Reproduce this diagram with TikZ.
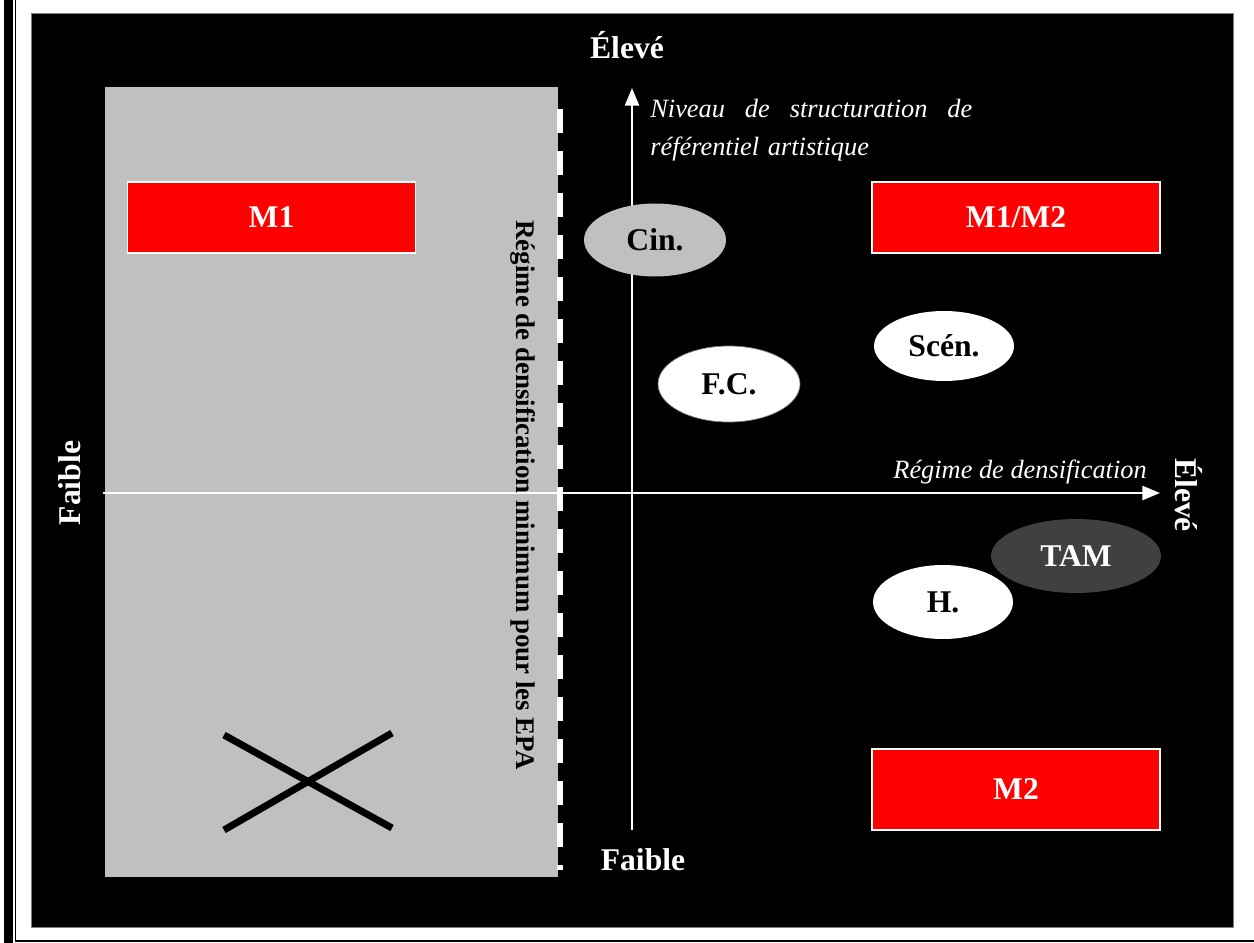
\documentclass[tikz,border=0pt]{standalone}
\usepackage{fontspec}
\setmainfont{Liberation Serif}
\usetikzlibrary{calc, arrows.meta, shapes.geometric}

\definecolor{grisclair}{HTML}{C0C0C0}
\definecolor{grisfonce}{HTML}{404040}
\definecolor{rouge}{HTML}{FF0000}

\tikzset{
    gras/.style={font=\bfseries\fontsize{18}{21}\selectfont},
    ital/.style={font=\itshape\fontsize{15}{21.5}\selectfont, text=white},
    boite/.style={gras, draw=white, line width=1pt, fill=rouge,
        text=white, minimum width=5.76cm, inner sep=0pt},
    bulle/.style={gras, ellipse, inner sep=0pt, minimum width=2.84cm,
        minimum height=1.46cm},
    axe/.style={white, line width=1.1pt,
        -{Triangle[length=10pt,width=8pt]}},
}

\begin{document}
\begin{tikzpicture}[x=0.02cm, y=-0.02cm]
    \useasboundingbox (0,0) rectangle (1254,943);

    % cadre de la page
    \fill (4,0) rectangle (13,943);
    \draw[line width=0.8pt] (15.5,0) -- (15.5,941) -- (1254,941);
    \draw[fill=black, draw=gray, line width=0.5pt] (31,13) rectangle (1233,927);

    % zone grise
    \fill[grisclair] (105,87) rectangle (558,877);
    \draw[white, line width=0.12cm, dash pattern=on 0.48cm off 0.36cm]
        (560,109) -- (560,870);

    % axes
    \coordinate (G) at (103,493);
    \coordinate (D) at (1160,493);
    \coordinate (B) at (632,830);
    \coordinate (H) at (632,88);
    \draw[axe] (G) -- (D);
    \draw[axe] (B) -- (H);

    \node[gras, text=white] (haut) at (627,45) {Élevé};
    \node[gras, text=white] (bas) at (643,860) {Faible};
    \node[gras, text=white, rotate=90] (gauche) at (70,483) {Faible};
    \node[gras, text=white, rotate=-90] (droite) at (1189,495) {Élevé};

    \node[ital, anchor=north west, inner sep=0pt, text width=6.44cm,
        align=left] (niveau) at (650,99)
        {Niveau\hfill de\hfill structuration\hfill de\\référentiel artistique};
    \node[ital, anchor=south east, inner sep=0pt] (regime) at (1147,484)
        {Régime de densification};

    \node[font=\bfseries\fontsize{15.3}{18}\selectfont, rotate=-90]
        (epa) at (523,495) {Régime de densification minimum pour les EPA};

    % modeles
    \node[boite, minimum height=1.42cm] (m1) at (271.5,217.5) {M1};
    \node[boite, minimum height=1.42cm] (m12) at (1016,217.5) {M1/M2};
    \node[boite, minimum height=1.62cm] (m2) at (1016,789.5) {M2};

    % disciplines
    \node[bulle, fill=grisclair] (cin) at (655,240) {Cin.};
    \node[bulle, fill=white, draw=gray, minimum height=1.52cm] (fc) at (729,384) {F.C.};
    \node[bulle, fill=white, minimum width=2.8cm, minimum height=1.4cm]
        (scen) at (944,346) {Scén.};
    \node[bulle, fill=grisfonce, text=white, minimum width=3.4cm,
        minimum height=1.48cm] (tam) at (1076,556) {TAM};
    \node[bulle, fill=white, minimum width=2.8cm, minimum height=1.48cm]
        (h) at (943,602) {H.};

    % croix
    \draw[line width=0.14cm] (224,735) -- (392,828);
    \draw[line width=0.14cm] (224,830) -- (392,733);
\end{tikzpicture}
\end{document}
